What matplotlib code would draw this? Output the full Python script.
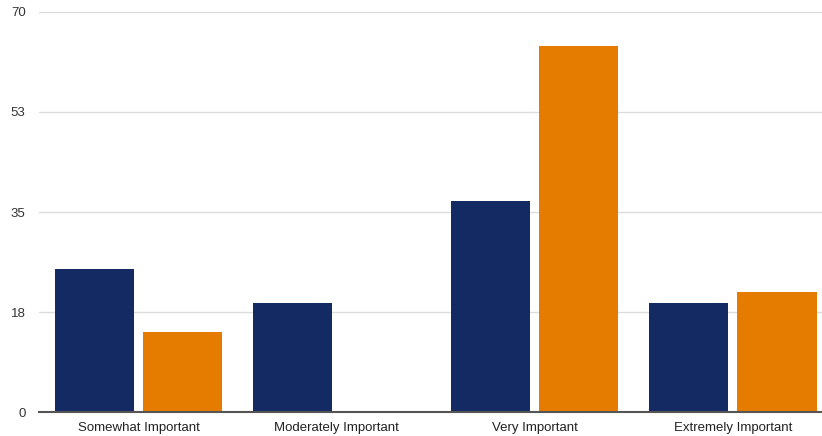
import numpy as np
import matplotlib.pyplot as plt

categories = ["Somewhat Important", "Moderately Important", "Very Important", "Extremely Important"]
series_a = [25, 19, 37, 19]
series_b = [14, 0, 64, 21]
y_ticks = [0, 17.5, 35, 52.5, 70]
y_tick_labels = ["0", "18", "35", "53", "70"]

navy = "#132a63"
orange = "#e57c00"

plt.rcParams["font.family"] = ["Liberation Sans", "DejaVu Sans"]

fig = plt.figure(figsize=(8.22, 4.36), dpi=100)
# right edge runs a little past the canvas, so the last group is cut short
ax = fig.add_axes([0.048, 0.055, 0.964, 0.9175])

x = np.arange(len(categories))
width = 0.4
offset = 0.2227
ax.bar(x - offset, series_a, width, color=navy, zorder=2)
ax.bar(x + offset, series_b, width, color=orange, zorder=2)

ax.set_xlim(-0.5, len(categories) - 0.5)
ax.set_ylim(0, 70)
ax.set_yticks(y_ticks)
ax.set_yticklabels(y_tick_labels)
ax.set_xticks(x)
ax.set_xticklabels(categories)

ax.grid(axis="y", color="#dcdcdc", linewidth=1, zorder=0)
for side in ["top", "right", "left"]:
    ax.spines[side].set_visible(False)
ax.spines["bottom"].set_color("#555555")
ax.spines["bottom"].set_linewidth(1.5)
ax.spines["bottom"].set_zorder(3)

ax.tick_params(axis="y", length=0, pad=10, labelsize=9.5, labelcolor="#333333")
ax.tick_params(axis="x", length=0, pad=7.5, labelsize=9.5, labelcolor="#222222")

fig.savefig("out.png", dpi=100)
